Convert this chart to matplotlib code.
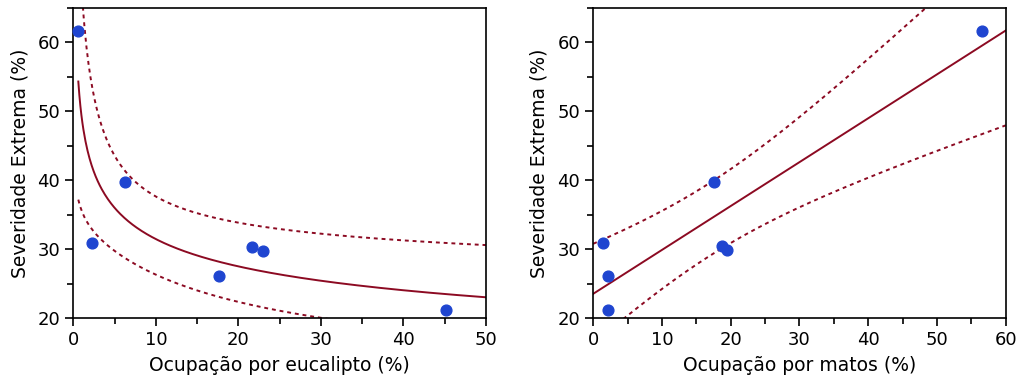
import numpy as np
import matplotlib.pyplot as plt
from matplotlib.ticker import MultipleLocator

# leituras do grafico
euc_x = [0.6, 2.3, 6.2, 17.7, 21.7, 23.0, 45.2]
matos_x = [1.45, 2.2, 2.2, 17.6, 18.7, 19.5, 56.5]
sev_euc = [61.6, 30.9, 39.8, 26.1, 30.3, 29.7, 21.2]
sev_matos = [30.9, 26.1, 21.2, 39.8, 30.5, 29.9, 61.6]

t975 = 2.571  # t de Student, 5 g.l.
red = '#8c0a22'
blue = '#1f45d0'

def ols_band(x, y, xg):
    x = np.asarray(x); y = np.asarray(y)
    n = len(x)
    b, a = np.polyfit(x, y, 1)
    res = y - (a + b*x)
    s = np.sqrt(np.sum(res**2)/(n-2))
    sxx = np.sum((x - x.mean())**2)
    se = s*np.sqrt(1/n + (xg - x.mean())**2/sxx)
    yhat = a + b*xg
    return yhat, yhat - t975*se, yhat + t975*se

plt.rcParams['font.family'] = 'DejaVu Sans'
fig, axs = plt.subplots(1, 2, figsize=(10.19, 3.82), dpi=100)

# eucalipto: ajuste potencia (log-log)
xg = np.linspace(0.6, 50, 400)
yh, lo, hi = ols_band(np.log(euc_x), np.log(sev_euc), np.log(xg))
ax = axs[0]
ax.plot(xg, np.exp(yh), color=red, lw=1.4)
ax.plot(xg, np.exp(lo), color=red, lw=1.4, ls=(0, (2, 2)))
ax.plot(xg, np.exp(hi), color=red, lw=1.4, ls=(0, (2, 2)))
ax.scatter(euc_x, sev_euc, s=60, color=blue, zorder=3, clip_on=False)
ax.set_xlim(0, 50)
ax.set_ylim(20, 65)
ax.set_xlabel('Ocupação por eucalipto (%)', fontsize=13.5, labelpad=5)
ax.set_ylabel('Severidade Extrema (%)', fontsize=13.5, labelpad=6)

# matos: linear
xg2 = np.linspace(0, 60, 200)
yh, lo, hi = ols_band(matos_x, sev_matos, xg2)
ax = axs[1]
ax.plot(xg2, yh, color=red, lw=1.4)
ax.plot(xg2, lo, color=red, lw=1.4, ls=(0, (2, 2)))
ax.plot(xg2, hi, color=red, lw=1.4, ls=(0, (2, 2)))
ax.scatter(matos_x, sev_matos, s=60, color=blue, zorder=3, clip_on=False)
ax.set_xlim(0, 60)
ax.set_ylim(20, 65)
ax.set_xlabel('Ocupação por matos (%)', fontsize=13.5, labelpad=5)
ax.set_ylabel('Severidade Extrema (%)', fontsize=13.5, labelpad=6)

for ax in axs:
    ax.xaxis.set_major_locator(MultipleLocator(10))
    ax.xaxis.set_minor_locator(MultipleLocator(5))
    ax.yaxis.set_major_locator(MultipleLocator(10))
    ax.yaxis.set_minor_locator(MultipleLocator(5))
    ax.tick_params(which='major', length=6, width=1.2, labelsize=13)
    ax.tick_params(which='minor', length=4, width=1.2)
    for sp in ax.spines.values():
        sp.set_linewidth(1.2)

plt.subplots_adjust(left=0.072, right=0.987, bottom=0.167, top=0.979, wspace=0.26)
plt.savefig('out.png', dpi=100)
